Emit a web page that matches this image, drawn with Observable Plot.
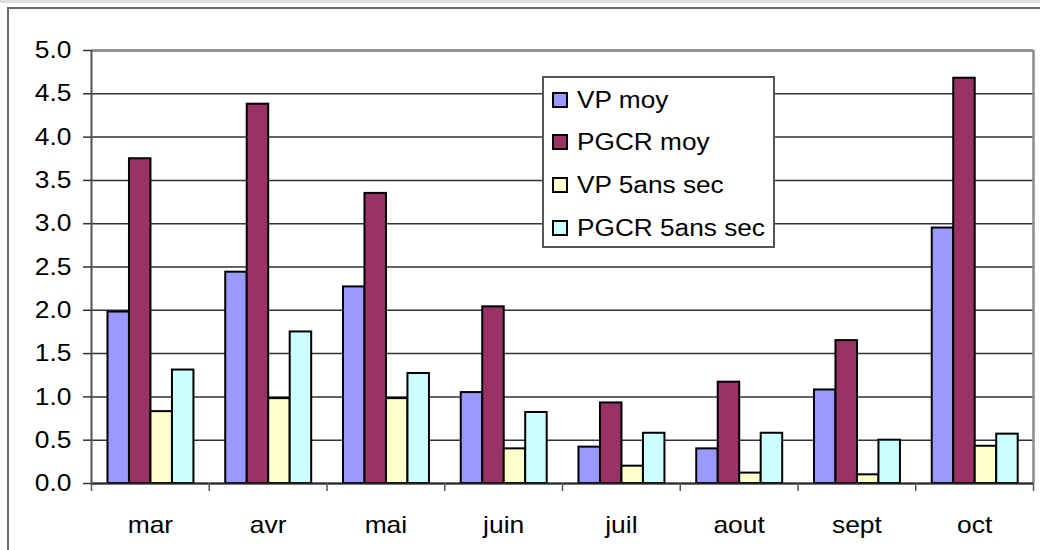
<!DOCTYPE html>
<html>
<head>
<meta charset="utf-8">
<script src="https://cdn.jsdelivr.net/npm/d3@7"></script>
<script src="https://cdn.jsdelivr.net/npm/@observablehq/plot@0.6"></script>
<style>
  html, body { margin: 0; padding: 0; background: #fff; }
  #wrap { position: relative; width: 1040px; height: 550px; overflow: hidden; font-family: "Liberation Sans", Arial, sans-serif; }
  #strip { position: absolute; left: 0; top: 0; width: 1040px; height: 3px; background: #dedede; }
  #outer { position: absolute; left: 7px; top: 7px; width: 1100px; height: 600px; border-left: 2px solid #6a6a6a; border-top: 2px solid #6a6a6a; box-sizing: border-box; }
  #chart { position: absolute; left: 0; top: 0; }
  #legend { position: absolute; left: 542px; top: 76px; width: 233px; height: 172px; box-sizing: border-box; border: 2px solid #555; background: #fff; }
  .item { position: absolute; left: 0; height: 0; }
  .sw { position: absolute; left: 8px; width: 16px; height: 16px; top: -8px; box-sizing: border-box; border: 2px solid #000; }
  .lab { position: absolute; left: 33px; top: -14px; font-size: 23px; line-height: 28px; white-space: nowrap; color: #000; transform: scaleX(1.14); transform-origin: left center; }
</style>
</head>
<body>
<div id="wrap">
  <div id="strip"></div>
  <div id="outer"></div>
  <div id="chart"></div>
  <div id="legend"></div>
</div>
<script>
// Categories and series
const months = ["mar", "avr", "mai", "juin", "juil", "aout", "sept", "oct"];
const seriesNames = ["VP moy", "PGCR moy", "VP 5ans sec", "PGCR 5ans sec"];
const seriesColors = ["#9999ff", "#993366", "#ffffcc", "#ccffff"];

// Series values
const vpMoy   = [1.98, 2.44, 2.27, 1.05, 0.42, 0.40, 1.08, 2.95];
const pgcrMoy = [3.75, 4.38, 3.35, 2.04, 0.93, 1.17, 1.65, 4.68];
const vp5     = [0.83, 0.98, 0.98, 0.40, 0.20, 0.12, 0.10, 0.43];
const pgcr5   = [1.31, 1.75, 1.27, 0.82, 0.58, 0.58, 0.50, 0.57];

// Y tick labels
const yTicks = [0, 0.5, 1, 1.5, 2, 2.5, 3, 3.5, 4, 4.5, 5];

const allSeries = [vpMoy, pgcrMoy, vp5, pgcr5];
const rows = [];
allSeries.forEach((vals, s) => vals.forEach((v, i) => rows.push({i, s, series: seriesNames[s], month: months[i], v})));

const groupStart = 0.14, barW = 0.1825;

const chart = Plot.plot({
  width: 1040,
  height: 550,
  marginLeft: 91,
  marginRight: 7,
  marginTop: 50,
  marginBottom: 67,
  style: {background: "transparent", fontFamily: "Liberation Sans, Arial, sans-serif", color: "#000"},
  x: {domain: [0, months.length], axis: null, label: null},
  y: {domain: [0, 5], axis: null, label: null},
  color: {domain: seriesNames, range: seriesColors},
  marks: [
    Plot.gridY(yTicks, {stroke: "#333", strokeOpacity: 1, strokeWidth: 1.5}),
    Plot.ruleY([5], {stroke: "#8c8c8c", strokeWidth: 2.5}),
    Plot.ruleX([months.length], {stroke: "#8c8c8c", strokeWidth: 2.5}),
    Plot.rect(rows, {
      x1: d => d.i + groupStart + d.s * barW,
      x2: d => d.i + groupStart + (d.s + 1) * barW,
      y1: 0,
      y2: "v",
      fill: "series",
      stroke: "#000",
      strokeWidth: 2
    }),
    Plot.ruleY([0], {stroke: "#222", strokeWidth: 2}),
    Plot.ruleX([0], {stroke: "#555", strokeWidth: 2}),
    Plot.axisY({ticks: yTicks, tickFormat: d3.format(".1f"), tickSize: 8, tickPadding: 12, fontSize: 24, stroke: "#333", strokeWidth: 1.5, label: null}),
    Plot.axisX({ticks: d3.range(months.length + 1), tickFormat: () => "", tickSize: 8, stroke: "#555", strokeWidth: 1.5, label: null}),
    Plot.axisX({ticks: months.map((m, i) => i + 0.5), tickFormat: v => months[Math.floor(v)], tickSize: 0, tickPadding: 32, fontSize: 24, label: null})
  ]
});
document.getElementById("chart").append(chart);

// stretch text horizontally like the reference
chart.querySelectorAll("text").forEach(t => {
  const w = t.getComputedTextLength();
  if (w > 0) {
    t.setAttribute("textLength", (w * 1.1).toFixed(1));
    t.setAttribute("lengthAdjust", "spacingAndGlyphs");
  }
});

// Legend
const legend = document.getElementById("legend");
const centers = [21.7, 64.3, 107, 150.3];
seriesNames.forEach((name, k) => {
  const it = document.createElement("div");
  it.className = "item";
  it.style.top = centers[k] + "px";
  const sw = document.createElement("div");
  sw.className = "sw";
  sw.style.background = seriesColors[k];
  const lab = document.createElement("div");
  lab.className = "lab";
  lab.textContent = name;
  it.append(sw, lab);
  legend.append(it);
});
</script>
</body>
</html>
